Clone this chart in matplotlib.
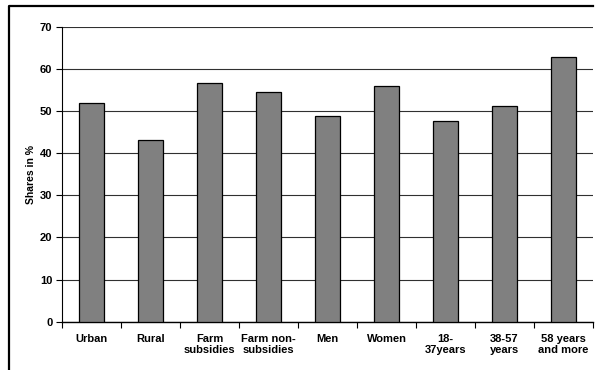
import numpy as np
import matplotlib.pyplot as plt
from matplotlib.lines import Line2D

# shares by group
groups = ['Urban', 'Rural', 'Farm\nsubsidies', 'Farm non-\nsubsidies', 'Men',
          'Women', '18-\n37years', '38-57\nyears', '58 years\nand more']
shares = [51.8, 43.0, 56.6, 54.5, 48.7, 56.0, 47.7, 51.2, 62.8]
yticks = [0, 10, 20, 30, 40, 50, 60, 70]

plt.rcParams['font.family'] = ['Liberation Sans', 'DejaVu Sans']

fig = plt.figure(figsize=(5.95, 3.7), dpi=100)
ax = fig.add_axes([62/595, 1-321.7/370, 531/595, 295/370])

x = np.arange(len(groups))
ax.bar(x, shares, width=0.41, color='#808080', edgecolor='black', linewidth=0.9, zorder=3)

ax.set_xlim(-0.5, len(groups)-0.5)
ax.set_ylim(0, 70)
ax.set_yticks(yticks)
ax.set_yticklabels([str(v) for v in yticks], fontsize=8, fontweight='bold')
ax.yaxis.grid(True, color='#303030', linewidth=0.8, zorder=0)

ax.set_xticks(x)
ax.set_xticklabels(groups, fontsize=8, fontweight='bold', linespacing=1.15)
ax.tick_params(axis='x', which='major', length=0, pad=9)
ax.set_xticks(np.arange(len(groups)+1)-0.5, minor=True)
ax.tick_params(axis='x', which='minor', length=4, width=0.8, direction='out')
ax.tick_params(axis='y', length=4, width=0.8, direction='out', pad=3)

for s in ['top', 'right']:
    ax.spines[s].set_visible(False)
ax.spines['left'].set_linewidth(0.8)
ax.spines['bottom'].set_linewidth(1.0)

ax.set_ylabel('Shares in %', fontsize=7.5, fontweight='bold', labelpad=3)

# outer frame (top and left edge)
fx = 8.5/595
fy = 1-5.5/370
fig.add_artist(Line2D([fx, fx, 593/595], [0, fy, fy], color='black', linewidth=1.6,
                      transform=fig.transFigure))

fig.savefig('out.png', dpi=100)
